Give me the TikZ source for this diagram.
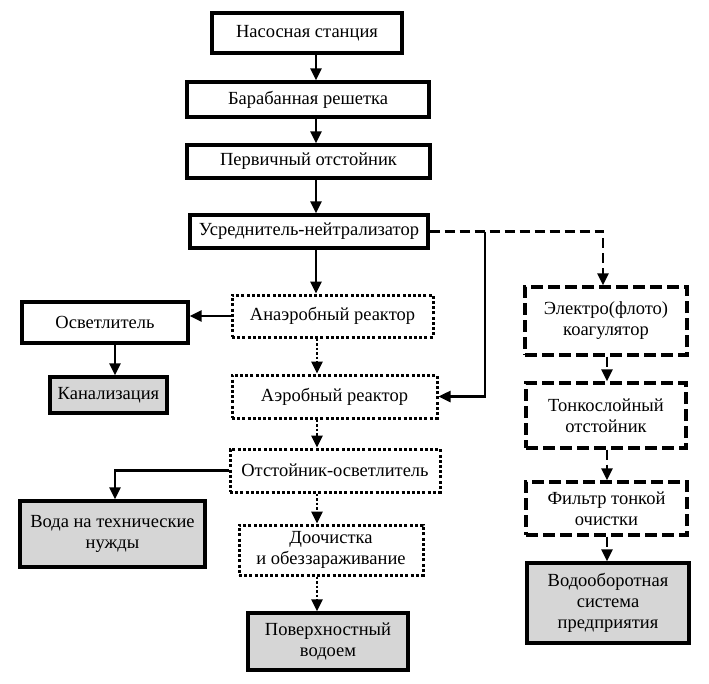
\documentclass[tikz,border=0pt]{standalone}
\usepackage{fontspec}
\setmainfont{Liberation Serif}
\usetikzlibrary{arrows.meta}
\begin{document}
\begin{tikzpicture}[x=1pt,y=-1pt,
  box/.style={draw, line width=3.2pt, rectangle, inner sep=0pt, align=center,
    font=\fontsize{18.5}{21}\selectfont},
  solidbox/.style={box},
  dotbox/.style={box, line width=3pt, dash pattern=on 3pt off 2.2pt},
  dashbox/.style={box, dash pattern=on 12pt off 5pt},
  endbox/.style={box, fill=black!16},
  con/.style={line width=2.5pt, -{Triangle[length=12pt,width=11pt]}},
  dotcon/.style={con, dash pattern=on 2.5pt off 2pt},
  dashcon/.style={con, dash pattern=on 10pt off 5pt}
]
\useasboundingbox (0,0) rectangle (709,683);
\fill[white] (0,0) rectangle (709,683);

\coordinate (cA) at (316,0);
\coordinate (cD) at (317,0);
\coordinate (cL) at (115,0);
\coordinate (cB) at (485,0);
\coordinate (cR1) at (603,0);
\coordinate (cR2) at (607,0);

\node[solidbox, minimum width=190, minimum height=40] (nas) at (307,33) {Насосная станция};
\node[solidbox, minimum width=242, minimum height=35] (bar) at (308,99.5) {Барабанная решетка};
\node[solidbox, minimum width=243, minimum height=33] (per) at (308.5,161.5) {Первичный отстойник};
\node[solidbox, minimum width=238, minimum height=33] (usr) at (309,231.5) {Усреднитель-нейтрализатор};
\node[dotbox, minimum width=201, minimum height=42] (ana) at (332.5,316) {Анаэробный реактор};
\node[solidbox, minimum width=166, minimum height=41] (osv) at (105,322.5) {Осветлитель};
\node[endbox, minimum width=117, minimum height=36] (kan) at (108.5,395) {Канализация};
\node[dotbox, minimum width=205, minimum height=43] (aer) at (334.5,396.5) {Аэробный реактор};
\node[dotbox, minimum width=210, minimum height=43] (ots) at (335,470.5) {Отстойник-осветлитель};
\node[endbox, minimum width=185, minimum height=66] (voda) at (112.5,534) {Вода на технические\\нужды};
\node[dotbox, minimum width=184, minimum height=50] (doo) at (331,550) {Доочистка\\и обеззараживание};
\node[endbox, minimum width=160, minimum height=57] (pov) at (328,641.5) {Поверхностный\\водоем};
\node[dashbox, minimum width=162, minimum height=68] (el) at (606,321) {Электро(флото)\\коагулятор};
\node[dashbox, minimum width=160, minimum height=65] (ton) at (606,415.5) {Тонкослойный\\отстойник};
\node[dashbox, minimum width=161, minimum height=53] (fil) at (606.5,508.5) {Фильтр тонкой\\очистки};
\node[endbox, minimum width=162, minimum height=80] (vod) at (608,603) {Водооборотная\\система\\предприятия};

\draw[con] (nas.south -| cA) -- (bar.north -| cA);
\draw[con] (bar.south -| cA) -- (per.north -| cA);
\draw[con] (per.south -| cA) -- (usr.north -| cA);
\draw[con] (usr.south -| cA) -- (ana.north -| cA);
\draw[dotcon] (ana.south -| cD) -- (aer.north -| cD);
\draw[dotcon] (aer.south -| cD) -- (ots.north -| cD);
\draw[dotcon] (ots.south -| cD) -- (doo.north -| cD);
\draw[dotcon] (doo.south -| cD) -- (pov.north -| cD);
\draw[con] (ana.west) -- (osv.east |- ana.west);
\draw[con] (osv.south -| cL) -- (kan.north -| cL);
\draw[con] (ots.west) -| (voda.north -| cL);
\draw[dashcon] (usr.east) -| (el.north -| cR1);
\draw[con] (usr.east -| cB) -- (aer.east -| cB) -- (aer.east);
\draw[dashcon] (el.south -| cR2) -- (ton.north -| cR2);
\draw[dashcon] (ton.south -| cR2) -- (fil.north -| cR2);
\draw[dashcon] (fil.south -| cR2) -- (vod.north -| cR2);
\end{tikzpicture}
\end{document}
